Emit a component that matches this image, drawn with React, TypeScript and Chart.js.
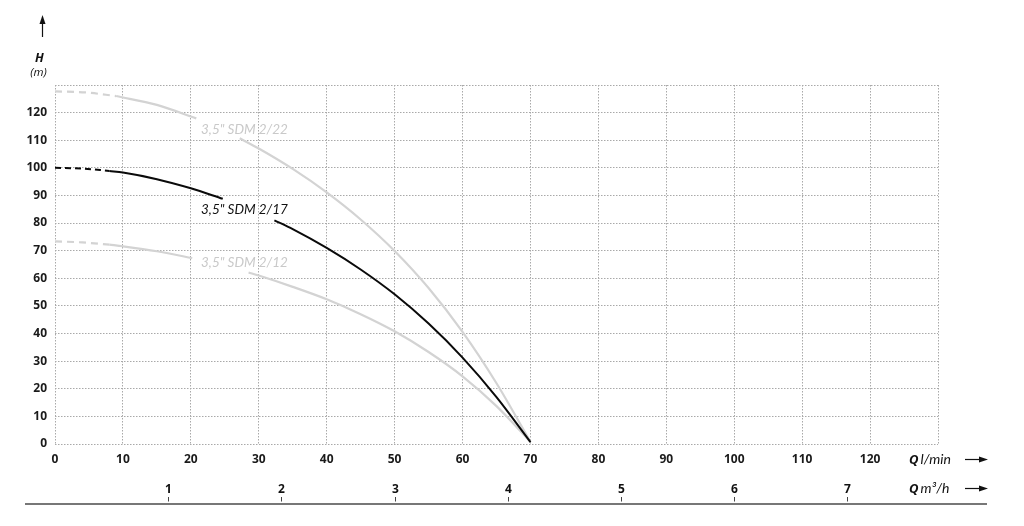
import React, { useEffect, useRef } from 'react';
import { Chart, registerables } from 'chart.js';

Chart.register(...registerables);

// Axis ranges / ticks
const Q_MAX = 130; // l/min
const H_MAX = 130; // m
const STEP = 10;
const m3hTicks = [1, 2, 3, 4, 5, 6, 7];
const LPM_PER_M3H = 1000 / 60;

// 3,5" SDM 2/17 (black)
const q17Dash = [0, 4, 8];
const h17Dash = [100, 99.75, 98.9];
const q17A = [8, 10, 15, 20, 24.7];
const h17A = [98.9, 98.3, 95.9, 92.6, 88.8];
const q17B = [32.3, 35, 40, 45, 50, 55, 60, 65, 70];
const h17B = [81.0, 77.8, 71.0, 63.2, 54.2, 43.6, 31.3, 17.0, 0.7];

// 3,5" SDM 2/22 (grey)
const q22Dash = [0, 4.5, 9];
const h22Dash = [127.7, 127.3, 126.0];
const q22A = [9, 15, 20.8];
const h22A = [126.0, 122.8, 117.9];
const q22B = [27.2, 30, 35, 40, 45, 50, 55, 60, 65, 70];
const h22B = [110.7, 107.0, 99.6, 91.1, 81.3, 69.9, 56.5, 40.6, 22.0, 0.8];

// 3,5" SDM 2/12 (grey)
const q12Dash = [0, 4, 8];
const h12Dash = [73.4, 73.0, 72.2];
const q12A = [8, 10, 15, 20.2];
const h12A = [72.2, 71.6, 69.8, 67.3];
const q12B = [28.5, 30, 35, 40, 45, 50, 55, 60, 65, 70];
const h12B = [62.1, 61.0, 56.9, 52.4, 47.0, 40.8, 33.3, 24.5, 13.7, 0.8];

// Curve labels (text, Q, H of baseline)
const labelTexts = ['3,5" SDM 2/22', '3,5" SDM 2/17', '3,5" SDM 2/12'];
const labelQ = [21.5, 21.5, 21.5];
const labelH = [112.3, 83.3, 64.0];
const labelColors = ['#c9c9c9', '#111111', '#c9c9c9'];

const BLACK = '#0a0a0a';
const GREY = '#d3d3d3';

const pts = (q: number[], h: number[]) => q.map((v, i) => ({ x: v, y: h[i] }));

const line = (q: number[], h: number[], color: string, width: number, dash?: number[]) => ({
  data: pts(q, h),
  borderColor: color,
  backgroundColor: color,
  borderWidth: width,
  borderDash: dash || [],
  pointRadius: 0,
  fill: false,
  cubicInterpolationMode: 'monotone' as const,
});

const annotations = {
  id: 'annotations',
  afterDraw(chart: any) {
    const { ctx, chartArea, scales } = chart;
    const xs = scales.x;
    ctx.save();

    // curve labels
    ctx.font = 'italic 13.5px Lato';
    ctx.textAlign = 'left';
    ctx.textBaseline = 'alphabetic';
    labelTexts.forEach((t, i) => {
      ctx.fillStyle = labelColors[i];
      ctx.fillText(t, xs.getPixelForValue(labelQ[i]), scales.y.getPixelForValue(labelH[i]));
    });

    // H axis title + arrow
    const ax = chartArea.left - 12.5;
    ctx.strokeStyle = '#111';
    ctx.fillStyle = '#111';
    ctx.lineWidth = 1.2;
    ctx.beginPath();
    ctx.moveTo(ax, 37);
    ctx.lineTo(ax, 22);
    ctx.stroke();
    ctx.beginPath();
    ctx.moveTo(ax, 15);
    ctx.lineTo(ax - 3, 24);
    ctx.lineTo(ax + 3, 24);
    ctx.closePath();
    ctx.fill();
    ctx.textAlign = 'center';
    ctx.font = 'italic bold 12.5px "Open Sans"';
    ctx.fillText('H', ax - 3, 62);
    ctx.font = 'italic 11.5px "Open Sans"';
    ctx.fillText('(m)', ax - 4, 75.5);

    // Q labels + arrows
    const qx = chartArea.right - 29;
    const drawQ = (unit: string, baseY: number, arrowY: number) => {
      ctx.textAlign = 'left';
      ctx.fillStyle = '#111';
      ctx.strokeStyle = '#111';
      ctx.font = 'italic bold 13px "Open Sans"';
      ctx.fillText('Q', qx, baseY);
      const w = ctx.measureText('Q').width;
      ctx.font = 'italic 14px Lato';
      ctx.fillText(unit, qx + w + 2, baseY);
      ctx.lineWidth = 1.2;
      ctx.beginPath();
      ctx.moveTo(965, arrowY);
      ctx.lineTo(981, arrowY);
      ctx.stroke();
      ctx.beginPath();
      ctx.moveTo(988, arrowY);
      ctx.lineTo(979, arrowY - 3);
      ctx.lineTo(979, arrowY + 3);
      ctx.closePath();
      ctx.fill();
    };
    drawQ('l/min', 464, 459.5);
    drawQ('m\u00B3/h', 493, 488.5);

    // secondary axis (m3/h)
    ctx.strokeStyle = '#777';
    ctx.lineWidth = 2;
    ctx.beginPath();
    ctx.moveTo(25, 504);
    ctx.lineTo(987, 504);
    ctx.stroke();
    ctx.lineWidth = 1;
    ctx.strokeStyle = '#444';
    ctx.fillStyle = '#111';
    ctx.textAlign = 'center';
    ctx.font = 'bold 12px "Open Sans"';
    m3hTicks.forEach((m) => {
      const px = Math.round(xs.getPixelForValue(m * LPM_PER_M3H)) + 0.5;
      ctx.beginPath();
      ctx.moveTo(px, 497);
      ctx.lineTo(px, 501.5);
      ctx.stroke();
      ctx.fillText(String(m), px, 492.5);
    });

    ctx.restore();
  },
};

export default function App() {
  const ref = useRef<HTMLCanvasElement>(null);
  useEffect(() => {
    if (!ref.current) return;
    const gridColor = '#a9a9a9';
    const tickFont = { family: '"Open Sans"', weight: 'bold' as const, size: 12 };
    const chart = new Chart(ref.current, {
      type: 'line',
      data: {
        datasets: [
          line(q17Dash, h17Dash, BLACK, 2, [6, 4]),
          line(q17A, h17A, BLACK, 2),
          line(q17B, h17B, BLACK, 2),
          line(q22Dash, h22Dash, GREY, 2.2, [7, 5]),
          line(q22A, h22A, GREY, 2.2),
          line(q22B, h22B, GREY, 2.2),
          line(q12Dash, h12Dash, GREY, 2.2, [7, 5]),
          line(q12A, h12A, GREY, 2.2),
          line(q12B, h12B, GREY, 2.2),
        ],
      },
      options: {
        responsive: false,
        animation: false,
        layout: { padding: { left: 0, top: 85, right: 86, bottom: 52 } },
        plugins: { legend: { display: false }, tooltip: { enabled: false } },
        scales: {
          x: {
            type: 'linear',
            min: 0,
            max: Q_MAX,
            afterFit: (s: any) => { s.height = 30; },
            ticks: {
              stepSize: STEP,
              autoSkip: false,
              maxRotation: 0,
              padding: 8,
              color: '#1a1a1a',
              font: tickFont,
              callback: (v: any) => (v === Q_MAX ? '' : String(v)),
            },
            grid: { color: gridColor, lineWidth: 1, drawTicks: false },
            border: { display: false, dash: [1.5, 1.5] },
          },
          y: {
            type: 'linear',
            min: 0,
            max: H_MAX,
            afterFit: (s: any) => { s.width = 55; },
            ticks: {
              stepSize: STEP,
              autoSkip: false,
              padding: 8,
              color: '#1a1a1a',
              font: tickFont,
              callback: (v: any) => (v === H_MAX ? '' : String(v)),
            },
            grid: { color: gridColor, lineWidth: 1, drawTicks: false },
            border: { display: false, dash: [1.5, 1.5] },
          },
        },
      },
      plugins: [annotations],
    } as any);
    return () => chart.destroy();
  }, []);
  return (
    <div style={{ position: 'fixed', left: 0, top: 0, width: 1024, height: 526, background: '#fff' }}>
      <canvas ref={ref} width={1024} height={526} style={{ display: 'block' }} />
    </div>
  );
}
